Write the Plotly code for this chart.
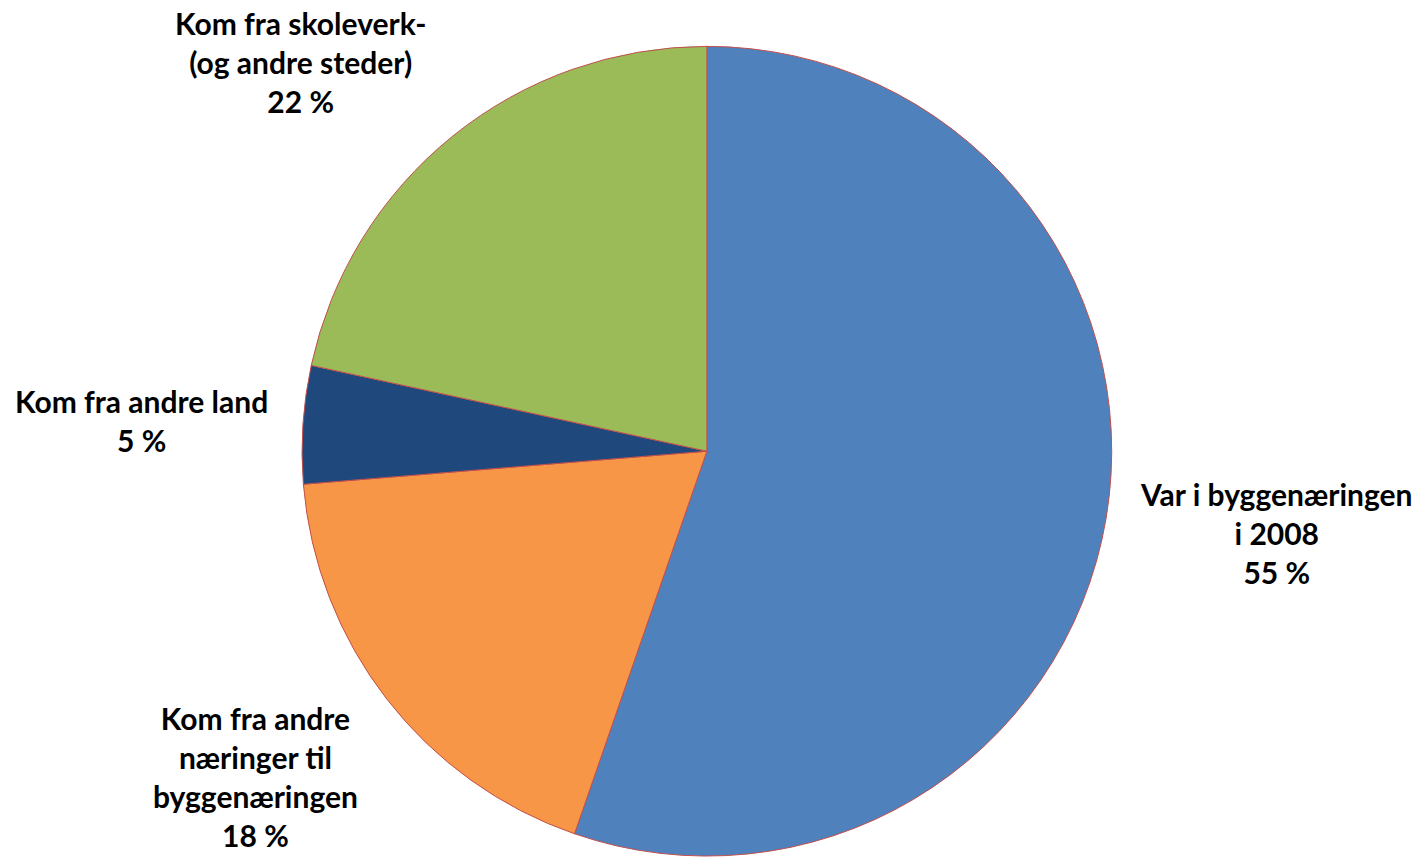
import plotly.graph_objects as go

labels = ["Var i byggenæringen<br>i 2008",
          "Kom fra andre<br>næringer til<br>byggenæringen",
          "Kom fra andre land",
          "Kom fra skoleverk-<br>(og andre steder)"]
values = [55.3, 18.4, 4.7, 21.6]
colors = ["#4F81BD", "#F79646", "#1F497D", "#9BBB59"]

# label anchor positions (paper coords)
label_x = [0.900, 0.1805, 0.100, 0.2116]
label_y = [0.378, 0.0945, 0.509, 0.928]

fig = go.Figure(go.Pie(
    labels=labels, values=values, sort=False, direction="clockwise", rotation=0,
    marker=dict(colors=colors, line=dict(color="#C0504D", width=1)),
    textinfo="none", hoverinfo="label+percent", showlegend=False,
    domain=dict(x=[0.213, 0.784], y=[0.001, 0.946]),
))

total = sum(values)
for lab, v, x, y in zip(labels, values, label_x, label_y):
    fig.add_annotation(
        x=x, y=y, xref="paper", yref="paper", xanchor="center", yanchor="middle",
        text=f"{lab}<br>{round(v / total * 100)} %", showarrow=False,
        font=dict(family="Lato, Open Sans, sans-serif", size=30, color="black",
                  weight="bold"),
        align="center",
    )

fig.update_layout(width=1418, height=857, margin=dict(l=0, r=0, t=0, b=0),
                  paper_bgcolor="white", plot_bgcolor="white")
fig.write_html("out.html", config={"displayModeBar": False},
               post_script="document.body.style.margin='0';document.body.style.overflow='hidden';")
